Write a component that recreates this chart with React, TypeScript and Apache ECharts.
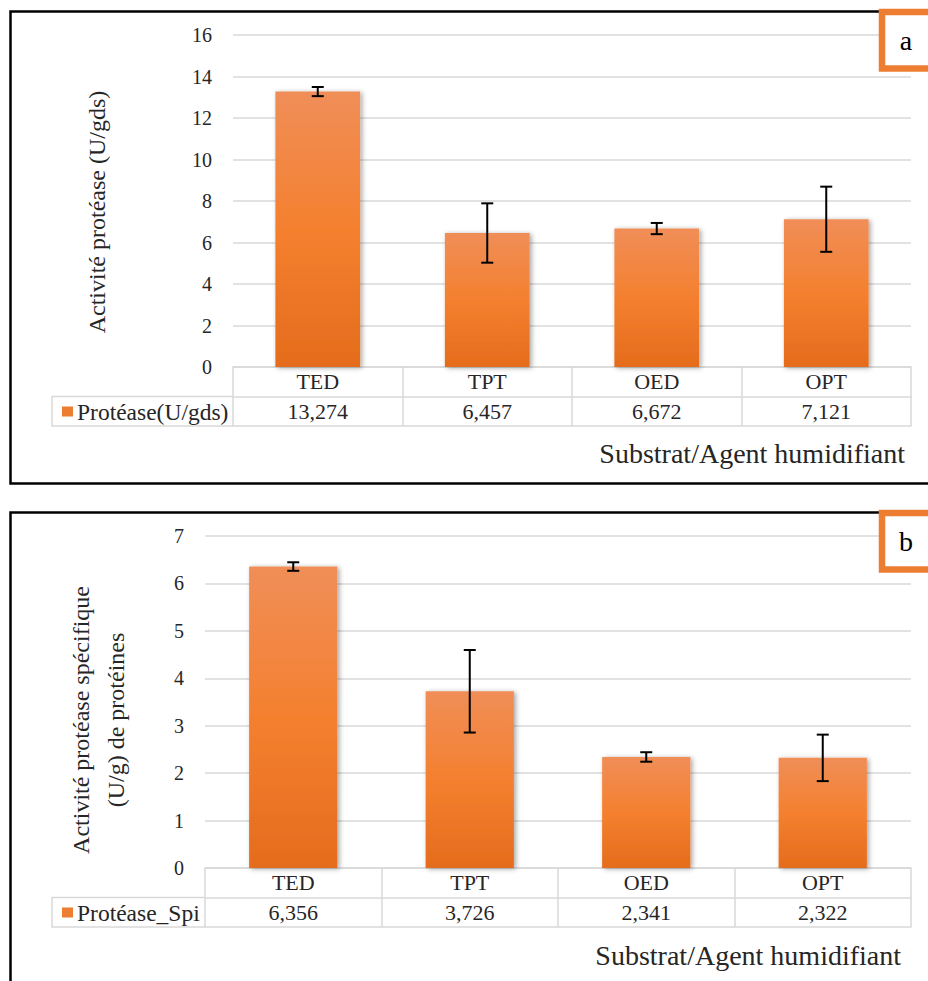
import React, { useEffect, useRef } from 'react';
import * as echarts from 'echarts';

// ---- data ----
const categories = ['TED', 'TPT', 'OED', 'OPT'];
const proteaseA = [13.274, 6.457, 6.672, 7.121];
const errorA = [0.22, 1.43, 0.27, 1.57];
const proteaseB = [6.356, 3.726, 2.341, 2.322];
const errorB = [0.09, 0.87, 0.1, 0.49];
const seriesNameA = 'Protéase(U/gds)';
const seriesNameB = 'Protéase_Spi';
const yMaxA = 16;
const yStepA = 2;
const yMaxB = 7;
const yStepB = 1;
const yTitleA = 'Activité protéase (U/gds)';
const yTitleB = 'Activité protéase spécifique\n(U/g) de protéines';
const xTitle = 'Substrat/Agent humidifiant';
const panelLabels = ['a', 'b'];

const FONT = '"Liberation Serif", "Times New Roman", serif';
const TXT = '#262626';
const GRID_LINE = '#d9d9d9';
const ORANGE = '#ED7D31';

const fmt = (v: number) => v.toFixed(3).replace('.', ',');

function panel(idx: number, p: {
  left: number; top: number; values: number[]; errors: number[]; name: string; max: number; step: number;
}) {
  const lineStyle = { color: GRID_LINE, width: 1.5 };
  const grid = { left: p.left, right: 928 - 911, top: p.top, height: 332 };
  const xAxes = [
    {
      type: 'category', gridIndex: idx, data: categories, position: 'bottom',
      axisLine: { show: true, lineStyle },
      axisTick: { show: true, length: 59, lineStyle },
      axisLabel: { margin: 0, fontSize: 22, lineHeight: 29, fontFamily: FONT, color: TXT },
    },
    {
      type: 'category', gridIndex: idx, data: p.values.map(fmt), position: 'bottom', offset: 29.5,
      axisLine: { show: true, lineStyle },
      axisTick: { show: false },
      axisLabel: { margin: 0, fontSize: 22, lineHeight: 29, fontFamily: FONT, color: TXT },
    },
    {
      type: 'category', gridIndex: idx, data: categories, position: 'bottom', offset: 59,
      axisLine: { show: true, lineStyle },
      axisTick: { show: false },
      axisLabel: { show: false },
    },
  ];
  const yAxis = {
    type: 'value', gridIndex: idx, min: 0, max: p.max, interval: p.step,
    axisLine: { show: false }, axisTick: { show: false },
    splitLine: { lineStyle },
    axisLabel: { fontSize: 20, margin: 21, fontFamily: FONT, color: TXT },
  };
  const xi = idx * 3;
  const series = [
    {
      type: 'bar', name: p.name, xAxisIndex: xi, yAxisIndex: idx, data: p.values, barWidth: '50%',
      itemStyle: {
        color: new echarts.graphic.LinearGradient(0, 0, 0, 1, [
          { offset: 0, color: '#F08E58' },
          { offset: 0.5, color: '#F4802F' },
          { offset: 1, color: '#E46C1C' },
        ]),
        shadowColor: 'rgba(0,0,0,0.35)', shadowBlur: 5, shadowOffsetX: 2, shadowOffsetY: 1,
      },
    },
    {
      type: 'custom', xAxisIndex: xi, yAxisIndex: idx, z: 10,
      data: p.values.map((v, i) => [i, v - p.errors[i], v + p.errors[i]]),
      encode: { x: 0, y: [1, 2] },
      renderItem: (_params: any, api: any) => {
        const i = api.value(0);
        const hi = api.coord([i, api.value(2)]);
        const lo = api.coord([i, api.value(1)]);
        const cw = 6;
        const st = { stroke: '#000', lineWidth: 2 };
        return {
          type: 'group',
          children: [
            { type: 'line', shape: { x1: hi[0], y1: hi[1], x2: lo[0], y2: lo[1] }, style: st },
            { type: 'line', shape: { x1: hi[0] - cw, y1: hi[1], x2: hi[0] + cw, y2: hi[1] }, style: st },
            { type: 'line', shape: { x1: lo[0] - cw, y1: lo[1], x2: lo[0] + cw, y2: lo[1] }, style: st },
          ],
        };
      },
    },
  ];
  // legend key cell of the data table
  const rowTop = p.top + 332 + 29.5;
  const legendCell: any[] = [
    {
      type: 'polyline', z: 5,
      shape: { points: [[p.left, rowTop], [52, rowTop], [52, rowTop + 29.5], [p.left, rowTop + 29.5]] },
      style: { stroke: GRID_LINE, lineWidth: 1.5, fill: null },
    },
    { type: 'rect', z: 5, shape: { x: 62, y: rowTop + 10, width: 11, height: 10 }, style: { fill: ORANGE } },
    {
      type: 'text', z: 5, x: 77, y: rowTop + 15,
      style: { text: p.name, fontSize: 23.5, fontFamily: FONT, fill: TXT, align: 'left', verticalAlign: 'middle' },
    },
  ];
  return { grid, xAxes, yAxis, series, legendCell };
}

export default function App() {
  const ref = useRef<HTMLDivElement>(null);
  useEffect(() => {
    if (!ref.current) return;
    const chart = echarts.init(ref.current, undefined, { renderer: 'svg' });
    const A = panel(0, { left: 233, top: 35, values: proteaseA, errors: errorA, name: seriesNameA, max: yMaxA, step: yStepA });
    const B = panel(1, { left: 205, top: 536, values: proteaseB, errors: errorB, name: seriesNameB, max: yMaxB, step: yStepB });

    const labelBox = (top: number, label: string) => ([
      {
        type: 'rect', z: 100,
        shape: { x: 882, y: top + 3.5, width: 60, height: 56.5 },
        style: { fill: '#fff', stroke: ORANGE, lineWidth: 6.5 },
      },
      {
        type: 'text', z: 101, x: 906, y: top + 32,
        style: { text: label, fontSize: 28, fontFamily: FONT, fill: '#000', align: 'center', verticalAlign: 'middle' },
      },
    ]);

    const graphic: any[] = [
      { type: 'rect', z: 50, shape: { x: 10.5, y: 11.5, width: 940, height: 472 }, style: { fill: null, stroke: '#000', lineWidth: 2.5 } },
      { type: 'rect', z: 50, shape: { x: 10.5, y: 512.5, width: 940, height: 500 }, style: { fill: null, stroke: '#000', lineWidth: 2.5 } },
      ...labelBox(8.5, panelLabels[0]),
      ...labelBox(509.5, panelLabels[1]),
      ...A.legendCell,
      ...B.legendCell,
      {
        type: 'text', x: 97, y: 212, rotation: Math.PI / 2,
        style: { text: yTitleA, fontSize: 24, fontFamily: FONT, fill: TXT, align: 'center', verticalAlign: 'middle' },
      },
      {
        type: 'text', x: 98, y: 720, rotation: Math.PI / 2,
        style: { text: yTitleB, fontSize: 24, lineHeight: 35, fontFamily: FONT, fill: TXT, align: 'center', verticalAlign: 'middle' },
      },
      {
        type: 'text', x: 905, y: 453,
        style: { text: xTitle, fontSize: 28, fontFamily: FONT, fill: TXT, align: 'right', verticalAlign: 'middle' },
      },
      {
        type: 'text', x: 901, y: 955,
        style: { text: xTitle, fontSize: 28, fontFamily: FONT, fill: TXT, align: 'right', verticalAlign: 'middle' },
      },
    ];

    chart.setOption({
      animation: false,
      backgroundColor: '#fff',
      textStyle: { fontFamily: FONT, color: TXT },
      grid: [A.grid, B.grid],
      xAxis: [...A.xAxes, ...B.xAxes],
      yAxis: [A.yAxis, B.yAxis],
      series: [...A.series, ...B.series],
      graphic,
    });
    return () => chart.dispose();
  }, []);
  return <div ref={ref} style={{ position: 'fixed', left: 0, top: 0, width: 928, height: 981 }} />;
}
